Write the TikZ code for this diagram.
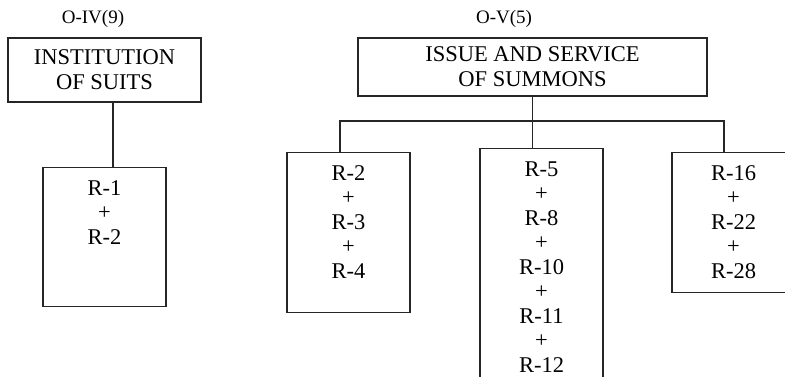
\documentclass[tikz,border=0pt]{standalone}
\usepackage{fontspec}
\setmainfont{Liberation Serif}
\usetikzlibrary{positioning}
\newcommand{\rlist}[2]{\parbox[t][#1][t]{123pt}{\centering\vspace*{13pt}#2}}

\begin{document}
\begin{tikzpicture}[x=1pt, y=-1pt,
  title/.style={draw=black!85, line width=1.1pt, align=center, inner sep=0pt,
                font=\fontsize{22.5}{25}\selectfont},
  rbox/.style={draw=black!85, line width=1.1pt, anchor=north, inner sep=0pt,
               font=\fontsize{22.5}{24.5}\selectfont},
  lab/.style={font=\fontsize{19}{22}\selectfont},
  link/.style={draw=black!85, line width=1.1pt},
]
\useasboundingbox (0,0) rectangle (785,376);

\node[lab] (ordiv) at (93,19) {O-IV(9)};
\node[lab] (ordv) at (504,19) {O-V(5)};

\node[title, minimum width=193pt, minimum height=64pt] (inst) at (104.5,70) {INSTITUTION\\OF SUITS};
\node[title, minimum width=349pt, minimum height=58pt] (summ) at (532.5,67) {ISSUE AND SERVICE\\OF SUMMONS};

\node[rbox] (r1) at (104.5,167) {\rlist{139pt}{R-1\\+\\R-2}};
\node[rbox] (r2) at (348.5,152) {\rlist{160pt}{R-2\\+\\R-3\\+\\R-4}};
\node[rbox] (r3) at (541.5,148) {\rlist{240pt}{R-5\\+\\R-8\\+\\R-10\\+\\R-11\\+\\R-12}};
\node[rbox] (r4) at (733.5,152) {\rlist{140pt}{R-16\\+\\R-22\\+\\R-28}};

\coordinate (bar) at (532.5,121);
\draw[link] ([xshift=8.5pt]inst.south) -- ([xshift=8.5pt]inst.south |- r1.north);
\draw[link] (summ.south) -- (summ.south |- r3.north);
\draw[link] ([xshift=-8.5pt]r2.north) |- (bar) -| ([xshift=-9.5pt]r4.north);
\end{tikzpicture}
\end{document}
